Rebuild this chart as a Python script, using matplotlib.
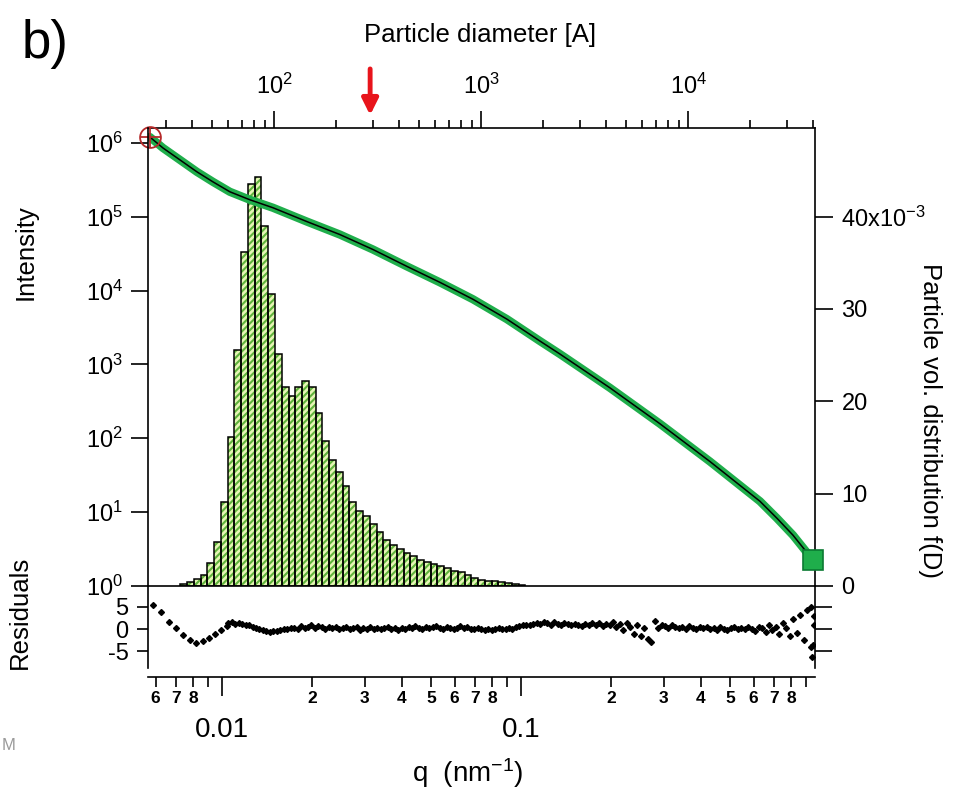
import numpy as np
import matplotlib
matplotlib.use("Agg")
import matplotlib.pyplot as plt
from matplotlib.ticker import LogFormatterMathtext, NullLocator, NullFormatter

plt.rcParams['font.family'] = ['Liberation Sans', 'DejaVu Sans']
plt.rcParams['mathtext.default'] = 'regular'
plt.rcParams['axes.unicode_minus'] = False
plt.rcParams['hatch.linewidth'] = 1.5

# scattering curve, q in nm^-1
q = [0.00574, 0.00635, 0.00724, 0.00825, 0.00933, 0.01063, 0.01241, 0.01481,
     0.01924, 0.02481, 0.03199, 0.04156, 0.05358, 0.0691, 0.08979, 0.1157,
     0.135, 0.1984, 0.2916, 0.4285, 0.63, 0.7181, 0.8122, 0.9475]
intensity = [1.197e6, 8.51e5, 5.86e5, 4.04e5, 2.96e5, 2.17e5, 1.69e5, 1.32e5,
             8.57e4, 5.72e4, 3.59e4, 2.12e4, 1.29e4, 7.61e3, 4.09e3, 2.07e3,
             1.38e3, 481, 157, 48.4, 14.0, 8.25, 4.87, 2.24]

# volume distribution f(D), diameter bins in A (log spaced)
diam_edges = np.geomspace(35.2, 1638, 52)
f_D = np.array([0.2, 0.4, 0.75, 1.2, 2.5, 4.8, 9.1, 16.1, 25.6, 36.2, 43.5, 44.3,
                39.0, 31.6, 25.1, 21.5, 20.6, 21.6, 22.2, 21.5, 18.7, 15.7, 13.6,
                12.3, 10.8, 9.1, 8.1, 7.6, 6.7, 5.8, 5.0, 4.4, 4.0, 3.6, 3.2, 2.8,
                2.6, 2.4, 2.2, 1.9, 1.6, 1.5, 1.2, 0.9, 0.7, 0.55, 0.5, 0.4, 0.3,
                0.2, 0.1]) * 1e-3

# residuals: sparse low-q points, then the dense part
res_q_low = [0.00588, 0.00625, 0.00665, 0.00700, 0.00740, 0.00780, 0.00820,
             0.00862, 0.00905, 0.00950, 0.00995, 0.0104]
res_low = [5.3, 3.8, 1.6, 0.2, -1.3, -2.4, -3.1, -2.6, -2.0, -1.2, -0.3, 0.6]
res_q = np.geomspace(0.0105, 0.955, 170)
res = [1.3, 1.5, 1.2, 1.4, 1.1, 1.0, 0.8,
       0.5, 0.3, 0.0, -0.3, -0.5, -0.6, -0.4,
       -0.5, -0.2, 0.1, -0.1, 0.2, 0.3, 0.1,
       0.6, 0.2, 0.5, 0.8, 0.3, 0.6, 0.4, 0.1, 0.5, 0.2,
       0.4, -0.1, 0.3, 0.5, 0.0, 0.2, 0.4, -0.2, 0.3, 0.1, 0.5, 0.0, 0.3, -0.1, 0.2, 0.4, 0.1, 0.3, -0.2, 0.2,
       0.1, 0.4, 0.2, 0.6, 0.3, 0.0, 0.5, 0.2, 0.4, 0.7, 0.3, 0.1, 0.5, 0.2, 0.0, 0.3, 0.6, 0.2, 0.4, 0.1,
       -0.1, 0.2, 0.0, -0.2, 0.1, -0.3, 0.0, 0.2, -0.1, 0.1, 0.3, 0.0, 0.4, 0.6, 0.9,
       1.0, 0.8, 1.2, 1.4, 1.1, 1.6, 1.3, 1.0, 1.5, 1.2, 0.9, 1.3, 1.1, 0.8, 1.2, 1.0, 0.7, 1.1, 0.9, 1.3,
       1.0, 1.4, 0.6, 1.2, 0.8, 1.5, 0.4, 1.1, -0.2, 1.3, 0.5, -1.0, 0.9, -1.6, 0.3,
       -2.2, -3.0, 1.8, 0.2, 0.9,
       0.6, 0.3, 0.8, 0.4, 0.2, 0.5, 0.1, 0.6, 0.3, -0.1, 0.4, 0.2, 0.5, 0.0, 0.3, -0.2, 0.4, 0.1, -0.3, 0.2,
       0.5, -0.1, 0.3, 0.0, 0.4,
       0.1, -0.4, 0.5, 0.2, -0.6, 0.8, -0.3, 0.4, -1.0, 1.4, 0.2, -1.5, 2.2, -0.8, 3.1, -2.4, 4.2, -4.0, 1.0]
res_q_end = [0.93, 0.94, 0.95, 0.957]
res_end = [4.9, -6.2, -3.5, 3.0]

green = '#1fae4b'
W, H = 955, 792
fig = plt.figure(figsize=(W / 100, H / 100), dpi=100)


def rect(x0, y0, x1, y1):
    return [x0 / W, 1 - y1 / H, (x1 - x0) / W, (y1 - y0) / H]


main_rect = rect(148, 128, 815, 586)
ax_h = fig.add_axes(main_rect, zorder=1)
ax_I = fig.add_axes(main_rect, zorder=2)
ax_I.patch.set_alpha(0)
ax_r = fig.add_axes(rect(148, 586, 815, 677), zorder=1)
ax_r.patch.set_alpha(0)

spine_lw = 1.2
tick_lbl = 17

# histogram (top diameter axis, right f(D) axis)
ax_h.bar(diam_edges[:-1], f_D, width=np.diff(diam_edges), align='edge',
         facecolor='#e6f5b5', edgecolor='#5fb33c', hatch='/////', linewidth=0)
ax_h.bar(diam_edges[:-1], f_D, width=np.diff(diam_edges), align='edge',
         facecolor='none', edgecolor='black', linewidth=1.1)
ax_h.set_xscale('log')
ax_h.set_xlim(24.6, 41000)
ax_h.set_ylim(0, 0.0496)
ax_h.xaxis.tick_top()
ax_h.yaxis.tick_right()
ax_h.set_xticks([100, 1000, 10000])
ax_h.xaxis.set_major_formatter(LogFormatterMathtext())
ax_h.xaxis.set_minor_formatter(NullFormatter())
ax_h.set_yticks([0, 0.01, 0.02, 0.03, 0.04], ['0', '10', '20', '30', '40x10$^{-3}$'])
ax_h.tick_params(axis='x', which='major', length=12, width=spine_lw, pad=9, labelsize=tick_lbl)
ax_h.tick_params(axis='x', which='minor', length=6, width=spine_lw)
ax_h.tick_params(axis='y', length=13, width=spine_lw, pad=6, labelsize=tick_lbl)
for s in ['left', 'bottom']:
    ax_h.spines[s].set_visible(False)
for s in ['top', 'right']:
    ax_h.spines[s].set_linewidth(spine_lw)
ax_h.set_xlabel('Particle diameter [A]', fontsize=18.5, va='center')
ax_h.xaxis.set_label_coords(0.498, 1.203)
ax_h.set_ylabel('Particle vol. distribution f(D)', fontsize=18.5, rotation=-90, va='center')
ax_h.yaxis.set_label_coords(1.172, 0.362)

ax_h.annotate('', xy=(291, 1.022), xycoords=('data', 'axes fraction'),
              xytext=(291, 1.135), textcoords=('data', 'axes fraction'),
              arrowprops=dict(arrowstyle='-|>', color='#e8141b', lw=3.5, mutation_scale=24),
              annotation_clip=False)

# intensity curve and fit
ax_I.loglog(q, intensity, color=green, lw=6, solid_capstyle='round')
ax_I.loglog(q, intensity, color='black', lw=1.1)
ax_I.plot(q[0], intensity[0], 'o', ms=15, mfc='none', mec='#b52a2a', mew=1.3, clip_on=False)
ax_I.plot(q[0], intensity[0], '+', ms=15, mec='#b52a2a', mew=1.3, clip_on=False)
ax_I.plot(q[-1], intensity[-1], 's', ms=14, mfc=green, mec='#0b7a32', mew=1.2, clip_on=False)
ax_I.set_xlim(0.00566, 0.962)
ax_I.set_ylim(1, 10 ** 6.2)
ax_I.set_yticks([1, 10, 100, 1e3, 1e4, 1e5, 1e6])
ax_I.yaxis.set_major_formatter(LogFormatterMathtext())
ax_I.yaxis.set_minor_locator(NullLocator())
ax_I.tick_params(axis='y', length=12, width=spine_lw, pad=6, labelsize=tick_lbl)
ax_I.tick_params(axis='x', which='both', bottom=False, labelbottom=False)
for s in ['top', 'right']:
    ax_I.spines[s].set_visible(False)
for s in ['left', 'bottom']:
    ax_I.spines[s].set_linewidth(spine_lw)
ax_I.set_ylabel('Intensity', fontsize=18.5)
ax_I.yaxis.set_label_coords(-0.165, 0.729)

# residuals
ax_r.semilogx(res_q_low, res_low, 'D', ms=3, color='black')
ax_r.semilogx(res_q, res, 'D', ms=3, color='black')
ax_r.semilogx(res_q_end, res_end, 'D', ms=3, color='black')
ax_r.set_xlim(0.00566, 0.962)
ax_r.set_ylim(-10.67, 9.56)
ax_r.set_yticks([-5, 0, 5], ['-5', '0', '5'])
ax_r.tick_params(axis='y', length=8, width=spine_lw, pad=6, labelsize=tick_lbl)
ax_r.spines['top'].set_visible(False)
for s in ['left', 'right', 'bottom']:
    ax_r.spines[s].set_linewidth(spine_lw)
ax_r.spines['left'].set_bounds(-8.67, 9.56)
ax_r.spines['right'].set_bounds(-8.67, 9.56)
ax_r.set_xticks([0.01, 0.1], ['0.01', '0.1'])
minor_q = [0.006, 0.007, 0.008, 0.009, 0.02, 0.03, 0.04, 0.05, 0.06, 0.07, 0.08, 0.09,
           0.2, 0.3, 0.4, 0.5, 0.6, 0.7, 0.8, 0.9]
minor_lbl = ['6', '7', '8', '', '2', '3', '4', '5', '6', '7', '8', '',
             '2', '3', '4', '5', '6', '7', '8', '']
ax_r.set_xticks(minor_q, minor_lbl, minor=True, fontweight='bold')
ax_r.tick_params(axis='x', which='major', length=14, width=spine_lw, pad=15, labelsize=20)
ax_r.tick_params(axis='x', which='minor', length=7, width=spine_lw, pad=3, labelsize=12.5)
ax_r.set_ylabel('Residuals', fontsize=18.5)
ax_r.yaxis.set_label_coords(-0.174, 0.714)

ax_r2 = ax_r.twinx()
ax_r2.set_ylim(-10.67, 9.56)
ax_r2.set_yticks([-5, 0, 5], ['', '', ''])
ax_r2.tick_params(axis='y', length=12, width=spine_lw)
for s in ['top', 'left', 'bottom', 'right']:
    ax_r2.spines[s].set_visible(False)

fig.text(468 / W, 1 - 773 / H, 'q  (nm$^{-1}$)', fontsize=20, ha='center', va='center')
fig.text(22 / W, 1 - 58 / H, 'b)', fontsize=38, ha='left', va='baseline')
fig.text(0.002, 1 - 745 / H, 'M', fontsize=12, color='#9a9a9a', va='center')

fig.savefig('out.png', dpi=100)
